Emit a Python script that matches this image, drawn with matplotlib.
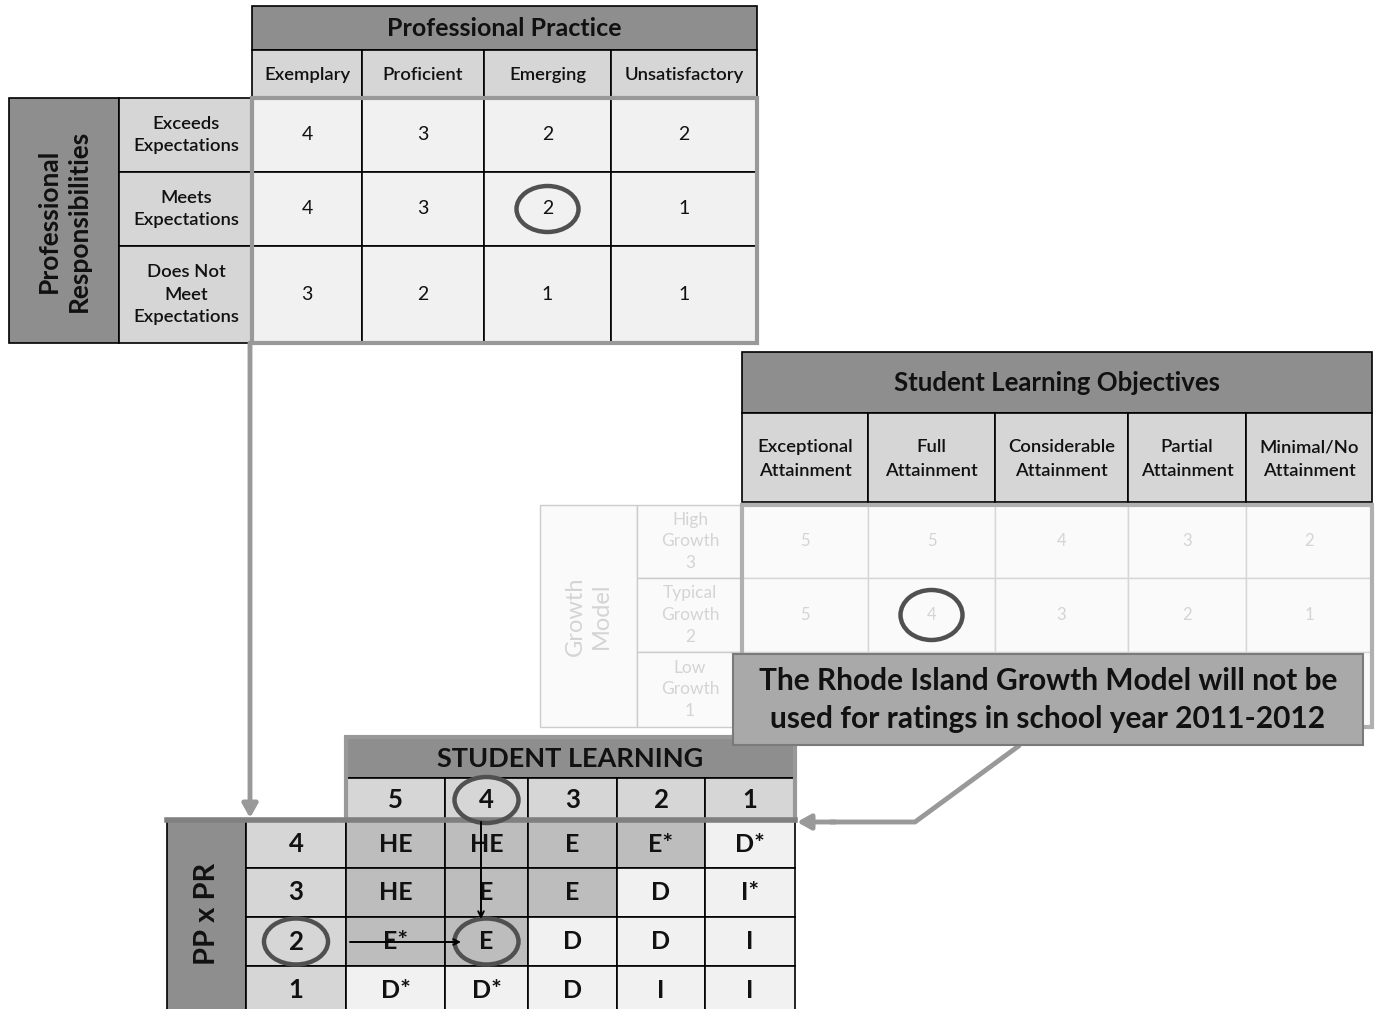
import matplotlib
matplotlib.use("Agg")
import matplotlib.pyplot as plt
from matplotlib.patches import Rectangle, Ellipse

plt.rcParams["font.family"] = ["Lato", "DejaVu Sans"]

# ---- data -------------------------------------------------------------
pp_title = "Professional Practice"
pp_cols = ["Exemplary", "Proficient", "Emerging", "Unsatisfactory"]
pr_title = "Professional\nResponsibilities"
pr_rows = ["Exceeds\nExpectations", "Meets\nExpectations",
           "Does Not\nMeet\nExpectations"]
pp_pr_scores = [[4, 3, 2, 2],
                [4, 3, 2, 1],
                [3, 2, 1, 1]]
pp_pick = (1, 2)

slo_title = "Student Learning Objectives"
slo_cols = ["Exceptional\nAttainment", "Full\nAttainment",
            "Considerable\nAttainment", "Partial\nAttainment",
            "Minimal/No\nAttainment"]
gm_title = "Growth\nModel"
gm_rows = ["High\nGrowth\n3", "Typical\nGrowth\n2", "Low\nGrowth\n1"]
gm_scores = [[5, 5, 4, 3, 2],
             [5, 4, 3, 2, 1],
             [None, None, None, None, None]]
slo_pick = (1, 1)
note = "The Rhode Island Growth Model will not be\nused for ratings in school year 2011-2012"

sl_title = "STUDENT LEARNING"
sl_cols = ["5", "4", "3", "2", "1"]
ppr_title = "PP x PR"
ppr_rows = ["4", "3", "2", "1"]
ratings = [["HE", "HE", "E", "E*", "D*"],
           ["HE", "E", "E", "D", "I*"],
           ["E*", "E", "D", "D", "I"],
           ["D*", "D*", "D", "I", "I"]]
sl_pick = 1
ppr_pick = 2

# ---- style ------------------------------------------------------------
DARK = "#8e8e8e"
LIGHT = "#d6d6d6"
PALE = "#f1f1f1"
SHADE = "#bdbdbd"
EDGE = "#999999"
RING = "#505050"
FADE = "#d4d4d4"

fig = plt.figure(figsize=(13.82, 10.09), dpi=100)
ax = fig.add_axes([0, 0, 1, 1])
ax.set_xlim(0, 1382)
ax.set_ylim(1009, 0)
ax.axis("off")


def box(x0, y0, x1, y1, fc, ec="black", lw=1.2, z=1):
    ax.add_patch(Rectangle((x0, y0), x1 - x0, y1 - y0, fc=fc, ec=ec,
                           lw=lw, zorder=z))


def label(x, y, s, size=13.5, weight="normal", color="#111111", rot=0,
          z=5, ls=1.2):
    ax.text(x, y, s, ha="center", va="center", fontsize=size,
            fontweight=weight, color=color, rotation=rot, zorder=z,
            linespacing=ls)


def ring(x, y, w, h):
    ax.add_patch(Ellipse((x, y), w, h, fill=False, ec=RING, lw=3.2,
                         zorder=8))


def mid(a, i):
    return (a[i] + a[i + 1]) / 2


# ---- Professional Practice x Professional Responsibilities -------------
px = [252, 362, 484, 611, 757]
py = [98, 172, 246, 343]
box(px[0], 6, px[-1], 50, DARK)
label(mid([px[0], px[-1]], 0), 29, pp_title, size=18, weight="bold")
for j, c in enumerate(pp_cols):
    box(px[j], 50, px[j + 1], 98, LIGHT)
    label(mid(px, j), 75, c, size=13.3, weight="semibold")
box(9, py[0], 119, py[-1], DARK)
label(64, mid([py[0], py[-1]], 0), pr_title, size=19, weight="bold",
      rot=90, ls=1.3)
for i, r in enumerate(pr_rows):
    box(119, py[i], px[0], py[i + 1], LIGHT)
    label(186, mid(py, i), r, size=13.3, weight="semibold", ls=1.5)
    for j, v in enumerate(pp_pr_scores[i]):
        box(px[j], py[i], px[j + 1], py[i + 1], PALE)
        label(mid(px, j), mid(py, i), str(v), size=14)
box(px[0], py[0], px[-1], py[-1], "none", ec=EDGE, lw=3, z=3)
ring(mid(px, pp_pick[1]), mid(py, pp_pick[0]), 62, 46)

# ---- Student Learning Objectives x Growth Model ------------------------
sx = [742, 868, 995, 1128, 1246, 1372]
gy = [505, 578, 652, 727]
box(sx[0], 352, sx[-1], 413, DARK)
label(mid([sx[0], sx[-1]], 0), 383, slo_title, size=18.5, weight="bold")
for j, c in enumerate(slo_cols):
    box(sx[j], 413, sx[j + 1], 502, LIGHT)
    label(mid(sx, j), 459, c, size=13.3, weight="semibold", ls=1.55)
box(540, gy[0], 637, gy[-1], "#fafafa", ec="#cccccc", lw=1)
label(588, mid([gy[0], gy[-1]], 0), gm_title, size=17, color=FADE,
      rot=90, ls=1.3)
for i, r in enumerate(gm_rows):
    box(637, gy[i], sx[0], gy[i + 1], "#fafafa", ec="#cccccc", lw=1)
    label(690, mid(gy, i), r, size=12.5, color=FADE, ls=1.45)
    for j, v in enumerate(gm_scores[i]):
        box(sx[j], gy[i], sx[j + 1], gy[i + 1], "#fafafa", ec="#d6d6d6",
            lw=1)
        if v is not None:
            label(mid(sx, j), mid(gy, i), str(v), size=12, color=FADE)
box(sx[0], gy[0], sx[-1], gy[-1], "none", ec="#b0b0b0", lw=3, z=3)
ring(mid(sx, slo_pick[1]), mid(gy, slo_pick[0]), 62, 50)

box(733, 654, 1363, 745, "#a9a9a9", ec="#7a7a7a", lw=1.5, z=6)
label(1048, 700, note, size=21.5, weight="bold", z=7, ls=1.42)

# connector: note -> student learning table
ax.plot([1020, 915, 830], [745, 822, 822], color=EDGE, lw=3.5,
        solid_capstyle="butt", zorder=2)
ax.annotate("", xy=(797, 822), xytext=(835, 822), zorder=2,
            arrowprops=dict(arrowstyle="-|>,head_length=0.8,head_width=0.45",
                            color=EDGE, lw=3.5, shrinkA=0, shrinkB=0))

# connector: PP x PR table -> PP x PR rows
ax.annotate("", xy=(250, 818), xytext=(250, 343), zorder=2,
            arrowprops=dict(arrowstyle="-|>,head_length=0.8,head_width=0.45",
                            color=EDGE, lw=3.5, shrinkA=0, shrinkB=0))

# ---- Student Learning x PP x PR ----------------------------------------
lx = [346, 445, 528, 617, 705, 795]
ly = [820, 868, 917, 966, 1015]
box(lx[0], 737, lx[-1], 778, DARK)
label(mid([lx[0], lx[-1]], 0), 759, sl_title, size=19.5, weight="bold")
for j, c in enumerate(sl_cols):
    box(lx[j], 778, lx[j + 1], 820, LIGHT)
    label(mid(lx, j), 800, c, size=18.5, weight="bold")
box(lx[0], 737, lx[-1], 820, "none", ec=EDGE, lw=3, z=3)
box(167, ly[0], 246, ly[-1], DARK)
label(207, 914, ppr_title, size=21, weight="bold", rot=90)
for i, r in enumerate(ppr_rows):
    box(246, ly[i], lx[0], ly[i + 1], LIGHT)
    label(296, mid(ly, i), r, size=18.5, weight="bold")
    for j, v in enumerate(ratings[i]):
        fc = SHADE if v.startswith(("HE", "E")) else PALE
        box(lx[j], ly[i], lx[j + 1], ly[i + 1], fc)
        label(mid(lx, j), mid(ly, i), v, size=18, weight="bold")
ax.plot([167, lx[-1]], [ly[0], ly[0]], color="#808080", lw=4, zorder=4)

ring(mid(lx, sl_pick), 800, 64, 46)
ring(296, mid(ly, ppr_pick), 64, 46)
ring(mid(lx, sl_pick), mid(ly, ppr_pick), 64, 46)

ax.annotate("", xy=(481, 919), xytext=(481, 822), zorder=9,
            arrowprops=dict(arrowstyle="->", color="black", lw=1.4,
                            shrinkA=0, shrinkB=0))
ax.annotate("", xy=(461, 942), xytext=(350, 942), zorder=9,
            arrowprops=dict(arrowstyle="->", color="black", lw=1.4,
                            shrinkA=0, shrinkB=0))

fig.savefig("out.png", dpi=100, facecolor="white")
